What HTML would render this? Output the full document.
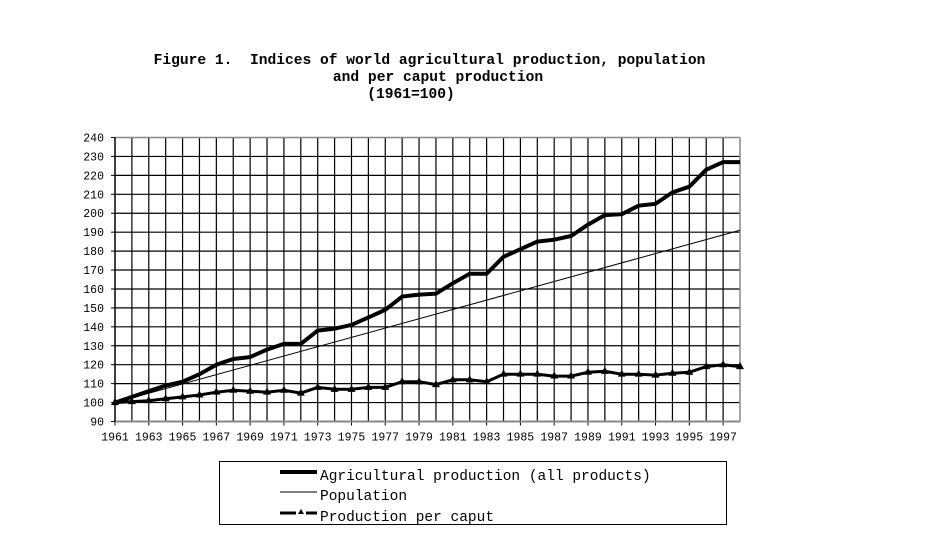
<!DOCTYPE html>
<html><head><meta charset="utf-8"><style>
body{margin:0;background:#fff;width:931px;height:533px;overflow:hidden}
svg{display:block}
text{font-family:"Liberation Mono",monospace;fill:#000}
</style></head><body>
<svg id="s" width="931" height="533" xmlns="http://www.w3.org/2000/svg">
<text x="429.5" y="64" font-size="14.6" font-weight="bold" text-anchor="middle" xml:space="preserve">Figure 1.  Indices of world agricultural production, population</text>
<text x="438" y="81" font-size="14.6" font-weight="bold" text-anchor="middle">and per caput production</text>
<text x="411" y="98" font-size="14.6" font-weight="bold" text-anchor="middle">(1961=100)</text>
<rect x="219.5" y="461.5" width="507" height="63" fill="none" stroke="#000" stroke-width="1"/>
<line x1="280" y1="472" x2="317" y2="472" stroke="#000" stroke-width="4"/>
<line x1="280" y1="492" x2="317" y2="492" stroke="#000" stroke-width="1"/>
<line x1="280" y1="513" x2="296" y2="513" stroke="#000" stroke-width="3"/>
<line x1="306" y1="513" x2="317" y2="513" stroke="#000" stroke-width="3"/>
<polygon points="301,509 298,514 304,514" fill="#000"/>
<text x="320" y="480" font-size="14.5">Agricultural production (all products)</text>
<text x="320" y="500" font-size="14.5">Population</text>
<text x="320" y="521" font-size="14.5">Production per caput</text>
<g id="g"></g>
</svg>
<script>
var g=document.getElementById('g'),h='';
var X0=115,X1=740,Y0=421.5,Y1=137.5;
function X(yr){return X0+(yr-1961)*(X1-X0)/37}
function Y(v){return Y0-(v-90)*(Y0-Y1)/150}
for(var v=90;v<=240;v+=10){var y=Y(v);
 if(v>90&&v<240)h+='<line x1="'+X0+'" y1="'+y+'" x2="'+X1+'" y2="'+y+'" stroke="#000" stroke-width="1.2"/>';
 h+='<line x1="'+(X0-4)+'" y1="'+y+'" x2="'+X0+'" y2="'+y+'" stroke="#000"/>';
 h+='<text x="104" y="'+(y+4)+'" font-size="11.5" text-anchor="end">'+v+'</text>';}
for(var yr=1962;yr<1998;yr++){var x=X(yr);h+='<line x1="'+x+'" y1="'+Y1+'" x2="'+x+'" y2="'+Y0+'" stroke="#000" stroke-width="1.2"/>';}
for(var yr=1961;yr<=1997;yr+=2){var x=X(yr);h+='<line x1="'+x+'" y1="'+Y0+'" x2="'+x+'" y2="'+(Y0+4)+'" stroke="#000"/>';h+='<text x="'+x+'" y="'+(Y0+19)+'" font-size="11.5" text-anchor="middle">'+yr+'</text>';}
h+='<line x1="'+X0+'" y1="'+Y1+'" x2="'+X1+'" y2="'+Y1+'" stroke="#888" stroke-width="1.5"/>';
h+='<line x1="'+X1+'" y1="'+Y1+'" x2="'+X1+'" y2="'+Y0+'" stroke="#888" stroke-width="1.5"/>';
h+='<line x1="'+X0+'" y1="'+Y0+'" x2="'+X1+'" y2="'+Y0+'" stroke="#888" stroke-width="2"/>';
h+='<line x1="'+X0+'" y1="'+Y1+'" x2="'+X0+'" y2="'+Y0+'" stroke="#000" stroke-width="1.5"/>';
var ag=[100,103,106,109,111,115,120,123,124,128,131,131,138,139,141,145,149,156,157,157.5,163,168,168,177,181,185,186,188,194,199,199.5,204,205,211,214,223,227,227];
var pc=[100,100.5,101,102,103,104,105.5,106.5,106,105.5,106.5,105,108,107,107,108,108,111,111,109.5,112,112,111,115,115,115,114,114,116,116.5,115,115,114.5,115.5,116,119,120,119];
function path(a){return a.map(function(v,i){return (i?'L':'M')+X(1961+i).toFixed(1)+','+Y(v).toFixed(1)}).join('')}
h+='<path d="M'+X(1961)+','+Y(100)+'L'+X(1998)+','+Y(191)+'" stroke="#000" stroke-width="1" fill="none"/>';
h+='<path d="'+path(pc)+'" stroke="#000" stroke-width="3" fill="none"/>';
pc.forEach(function(v,i){var x=X(1961+i),y=Y(v);h+='<polygon points="'+x+','+(y-4.5)+' '+(x-4)+','+(y+2.5)+' '+(x+4)+','+(y+2.5)+'" fill="#000"/>';});
h+='<path d="'+path(ag)+'" stroke="#000" stroke-width="4" fill="none"/>';
g.innerHTML=h;
</script>
</body></html>
